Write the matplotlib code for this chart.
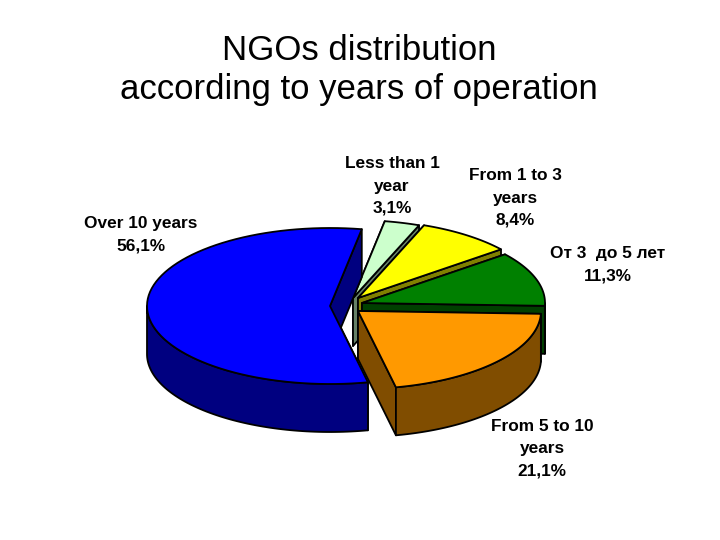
import numpy as np
import matplotlib
matplotlib.use("Agg")
import matplotlib.pyplot as plt
from matplotlib.patches import Polygon

title = "NGOs distribution\naccording to years of operation"
categories = ["Over 10 years", "Less than 1\nyear", "From 1 to 3\nyears", "От 3  до 5 лет", "From 5 to 10\nyears"]
values = [56.1, 3.1, 8.4, 11.3, 21.1]
value_labels = ["56,1%", "3,1%", "8,4%", "11,3%", "21,1%"]
top_colors = ["#0000FF", "#CCFFCC", "#FFFF00", "#008000", "#FF9900"]
side_colors = ["#000080", "#668066", "#808000", "#004000", "#804D00"]
apexes = [(330, 306), (353, 298), (358, 298), (362, 303), (358, 311)]
label_pos = [(141, 235), (392, 186), (515, 198), (608, 265), (542, 449)]

RX, RY, DEPTH = 183, 78, 48
START = 80.0

fig = plt.figure(figsize=(7.2, 5.4), dpi=100)
ax = fig.add_axes([0, 0, 1, 1])
ax.set_xlim(0, 720)
ax.set_ylim(540, 0)
ax.axis("off")

# angular spans: first slice runs counter-clockwise from START, others clockwise
spans = []
a = START
for v in values[1:]:
    b = a - v * 3.6
    spans.append((b, a))
    a = b
spans = [(START, START + values[0] * 3.6)] + spans


def rim(c, t0, t1, dy=0, n=80):
    t = np.radians(np.linspace(t0, t1, n))
    return np.column_stack([c[0] + RX * np.cos(t), c[1] - RY * np.sin(t) + dy])


order = [1, 2, 3, 4, 0]
for i in order:
    t0, t1 = spans[i]
    c = apexes[i]
    style = dict(edgecolor="black", linewidth=1.3, joinstyle="round")
    for t in (t1, t0):  # cut faces
        e = rim(c, t, t, n=1)[0]
        ax.add_patch(Polygon([c, e, (e[0], e[1] + DEPTH), (c[0], c[1] + DEPTH)],
                             facecolor=side_colors[i], **style))
    # outer rim: the part of the arc on the near side
    for k in range(-1, 1):
        lo, hi = max(t0, 180 + 360 * k), min(t1, 360 + 360 * k)
        if hi > lo:
            top = rim(c, lo, hi)
            bot = rim(c, lo, hi, DEPTH)
            ax.add_patch(Polygon(np.vstack([top, bot[::-1]]),
                                 facecolor=side_colors[i], **style))
    ax.add_patch(Polygon(np.vstack([[c], rim(c, t0, t1)]),
                         facecolor=top_colors[i], **style))

for cat, lab, (x, y) in zip(categories, value_labels, label_pos):
    ax.text(x, y, f"{cat}\n{lab}", ha="center", va="center", fontsize=12.4,
            fontweight="bold", family=["Liberation Sans", "DejaVu Sans"],
            linespacing=1.62, color="black")

ax.text(359, 70, title, ha="center", va="center", fontsize=25,
        family="Liberation Sans", linespacing=1.22, color="black")

fig.savefig("out.png", dpi=100)
